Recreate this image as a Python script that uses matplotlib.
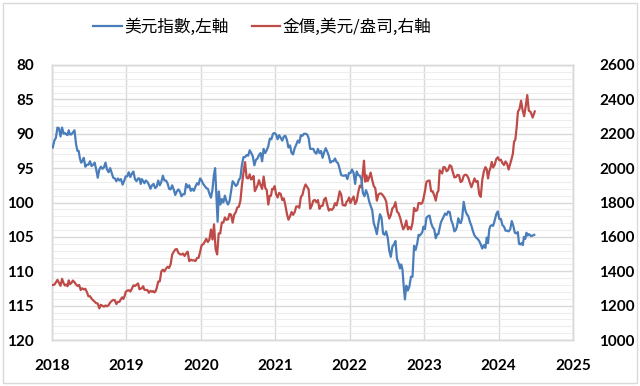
import matplotlib
matplotlib.use("Agg")
import matplotlib.pyplot as plt
from matplotlib.lines import Line2D
from matplotlib.patches import Rectangle
import numpy as np

# ---------------- data (weekly values, grouped by month) ----------------
years = [2018, 2019, 2020, 2021, 2022, 2023, 2024]

dxy = {
    2018: [[92.0, 91.0, 90.6, 89.1], [89.2, 90.4, 89.1, 90.0], [89.9, 90.1, 90.2, 89.5, 90.1],
           [90.1, 89.8, 89.5, 91.5], [92.5, 92.5, 93.6, 94.2, 94.0], [93.5, 94.8, 94.5, 94.5],
           [94.0, 94.7, 94.5, 94.2], [95.2, 96.4, 95.2, 94.8], [95.1, 94.9, 94.2, 95.2],
           [95.6, 95.0, 95.7, 96.4], [96.5, 96.9, 96.5, 96.8], [96.6, 97.4, 96.9, 96.2]],
    2019: [[96.2, 95.6, 96.3, 95.8], [95.5, 96.6, 96.9, 96.5], [96.5, 97.3, 96.6, 96.9, 97.2],
           [96.8, 97.0, 97.4, 98.0], [97.5, 97.3, 97.9, 97.7], [96.8, 97.5, 97.0, 96.1],
           [96.8, 96.8, 97.2, 98.0], [98.1, 97.5, 98.1, 98.9], [98.4, 98.1, 98.4, 99.1],
           [98.8, 98.8, 97.3, 97.8], [97.5, 98.3, 98.0, 98.3], [97.7, 97.2, 97.4, 96.5]],
    2020: [[96.8, 97.3, 97.6, 97.9], [98.0, 98.7, 99.3, 98.1], [96.0, 95.0, 98.8, 102.8, 98.4],
           [100.3, 99.5, 100.0, 99.0], [99.8, 100.3, 99.8, 98.3], [96.9, 97.2, 97.6, 97.4],
           [96.7, 96.4, 94.5, 93.4], [93.4, 93.1, 93.2, 92.4], [92.8, 93.3, 94.6, 93.8],
           [93.6, 93.1, 92.8, 94.0], [92.2, 92.8, 92.4, 91.8], [90.7, 90.8, 90.0, 89.9]],
    2021: [[90.1, 90.8, 90.2, 90.6], [91.0, 90.4, 90.3, 90.9], [92.0, 91.7, 92.8, 93.0],
           [92.1, 91.6, 91.0, 91.3], [90.2, 90.3, 90.0, 90.0], [90.1, 90.6, 92.2, 92.2],
           [92.2, 92.7, 92.9, 92.2], [92.8, 92.5, 93.5, 92.7], [92.1, 92.6, 93.2, 94.2],
           [94.0, 94.0, 93.6, 94.1], [94.3, 95.1, 96.0, 96.1], [96.1, 96.0, 96.6, 95.7]],
    2022: [[95.7, 95.2, 95.7, 97.3], [95.5, 96.0, 96.1, 96.6], [98.6, 99.1, 98.2, 98.8],
           [99.8, 100.5, 101.1, 103.0], [103.7, 104.6, 103.0, 101.7], [102.2, 104.5, 104.7, 104.2],
           [105.1, 107.0, 107.9, 106.4], [106.1, 105.6, 108.2, 108.8], [109.6, 109.0, 109.7, 112.1, 114.1],
           [112.1, 112.8, 112.2, 110.8], [110.8, 106.3, 106.9, 106.0], [104.7, 104.8, 104.6, 104.3, 103.5]],
    2023: [[103.9, 102.2, 102.0, 101.9], [103.0, 103.6, 103.9, 105.2], [104.6, 104.6, 103.7, 102.9, 102.5],
           [102.1, 101.6, 101.8, 101.3], [101.4, 102.6, 103.2, 104.2], [104.0, 103.5, 102.3, 102.9, 103.0],
           [102.3, 99.9, 101.1, 101.7], [102.0, 102.8, 103.4, 104.2], [104.8, 105.1, 105.3, 105.6],
           [106.1, 106.7, 106.2, 106.6], [105.1, 105.9, 103.9, 103.4, 103.3], [103.4, 102.6, 101.7, 101.3]],
    2024: [[102.4, 102.4, 103.3, 103.5], [104.1, 104.1, 104.2, 103.9], [102.7, 103.4, 104.4, 104.5],
           [104.3, 106.0, 106.1, 105.9, 106.2], [105.0, 105.3, 104.4, 104.8, 104.6], [104.9, 104.7]],
}

gold = {
    2018: [[1320, 1322, 1335, 1350], [1333, 1315, 1356, 1330], [1317, 1323, 1313, 1347, 1325],
           [1332, 1346, 1336, 1323], [1314, 1320, 1291, 1301], [1294, 1298, 1279, 1254],
           [1255, 1241, 1231, 1223], [1214, 1212, 1184, 1205], [1199, 1194, 1201, 1196],
           [1203, 1218, 1227, 1233], [1232, 1209, 1222, 1222], [1237, 1248, 1239, 1256, 1281]],
    2019: [[1287, 1290, 1282, 1298], [1318, 1314, 1322, 1329], [1295, 1298, 1302, 1313, 1292],
           [1291, 1291, 1275, 1286], [1281, 1285, 1277, 1283, 1305], [1340, 1341, 1399, 1409],
           [1399, 1415, 1426, 1419], [1440, 1497, 1513, 1527], [1529, 1507, 1499, 1497],
           [1503, 1489, 1504, 1514], [1459, 1467, 1463, 1464], [1459, 1477, 1478, 1512]],
    2020: [[1552, 1557, 1571, 1589], [1570, 1584, 1643, 1585], [1673, 1530, 1498, 1620],
           [1620, 1684, 1683, 1713], [1699, 1702, 1734, 1729], [1683, 1729, 1743, 1771],
           [1775, 1810, 1902, 1975], [2035, 1944, 1940, 1964], [1934, 1940, 1954, 1866, 1880],
           [1899, 1930, 1901, 1879], [1951, 1886, 1871, 1788], [1839, 1839, 1880, 1877, 1895]],
    2021: [[1849, 1829, 1856, 1850], [1814, 1824, 1784, 1734], [1700, 1719, 1745, 1728],
           [1744, 1777, 1777, 1769], [1832, 1844, 1881, 1905], [1891, 1877, 1764, 1781],
           [1811, 1815, 1802, 1814], [1763, 1780, 1781, 1818], [1827, 1787, 1753, 1761],
           [1757, 1768, 1796, 1783], [1818, 1865, 1846, 1785], [1783, 1782, 1805, 1811, 1829]],
    2022: [[1797, 1818, 1835, 1791], [1808, 1860, 1898, 1889], [1966, 2043, 1921, 1958, 1925],
           [1945, 1974, 1931, 1896], [1883, 1811, 1846, 1853], [1851, 1840, 1827, 1807],
           [1742, 1707, 1727, 1766], [1775, 1802, 1747, 1738], [1712, 1675, 1644, 1660],
           [1695, 1644, 1657, 1644], [1681, 1769, 1751, 1755], [1797, 1797, 1792, 1798, 1824]],
    2023: [[1865, 1920, 1926, 1928], [1865, 1865, 1842, 1811], [1856, 1868, 1988, 1978, 1969],
           [2007, 2004, 1982, 1990], [2017, 2011, 1977, 1946], [1948, 1961, 1958, 1919],
           [1925, 1955, 1962, 1959], [1943, 1914, 1889, 1915], [1940, 1919, 1925, 1848],
           [1833, 1932, 1981, 2006], [1992, 1940, 1981, 2002, 2036], [2004, 2019, 2053, 2063]],
    2024: [[2045, 2049, 2029, 2018], [2039, 2024, 1992, 2024], [2054, 2083, 2155, 2165, 2232],
           [2329, 2344, 2392, 2337], [2302, 2360, 2425, 2334], [2327, 2294, 2330]],
}

legend_labels = ["美元指數,左軸", "金價,美元/盎司,右軸"]
left_ticks = [80, 85, 90, 95, 100, 105, 110, 115, 120]
right_ticks = [1000, 1200, 1400, 1600, 1800, 2000, 2200, 2400, 2600]
x_ticks = [2018, 2019, 2020, 2021, 2022, 2023, 2024, 2025]


def flatten(series):
    xs, ys = [], []
    for yr in years:
        for m, vals in enumerate(series[yr]):
            n = len(vals)
            for i, v in enumerate(vals):
                xs.append(yr + (m + (i + 0.5) / n) / 12.0)
                ys.append(v)
    return np.array(xs), np.array(ys)


dx, dy = flatten(dxy)
gx, gy = flatten(gold)

# ---------------- plot ----------------
BLUE = "#4A7EBB"
RED = "#BE4B48"
GRID = "#D9D9D9"
MINOR = "#EDEDED"

fig = plt.figure(figsize=(6.4, 3.86), dpi=100)
rect = [52 / 640, 1 - 340 / 386, (573 - 52) / 640, (340 - 65) / 386]
ax = fig.add_axes(rect)            # left axis + grid
ax2 = ax.twinx()                   # right axis, gold
ax3 = fig.add_axes(rect, sharex=ax)  # left-scale overlay for dollar index
ax3.set_ylim(120, 80)
ax3.axis("off")
ax3.patch.set_visible(False)

ax.set_xlim(2018, 2025)
ax.set_ylim(120, 80)
ax2.set_ylim(1000, 2600)

ax.set_yticks(left_ticks)
ax.set_yticks(np.arange(80, 121, 1), minor=True)
ax.set_xticks(x_ticks)
ax2.set_yticks(right_ticks)

ax.grid(which="major", axis="both", color=GRID, lw=1.0)
ax.grid(which="minor", axis="y", color=MINOR, lw=0.8)
ax.set_axisbelow(True)

for a in (ax, ax2):
    for s in a.spines.values():
        s.set_color(GRID)
        s.set_linewidth(1.0)
    a.tick_params(which="both", length=0)

ax.tick_params(axis="y", pad=13)
ax.tick_params(axis="x", pad=14)
ax2.tick_params(axis="y", pad=19)
for lab in ax.get_yticklabels() + ax.get_xticklabels() + ax2.get_yticklabels():
    lab.set_fontfamily("Lato")
    lab.set_fontweight("bold")
    lab.set_fontsize(11)
    lab.set_color("#000000")

ax2.plot(gx, gy, color=RED, lw=1.6, zorder=3)
ax3.plot(dx, dy, color=BLUE, lw=1.6, zorder=3)

handles = [Line2D([], [], color=BLUE, lw=1.6), Line2D([], [], color=RED, lw=1.6)]
fig.legend(handles, legend_labels, loc="center", bbox_to_anchor=(0.41, 1 - 27 / 386),
           ncol=2, frameon=False, handlelength=1.7, handletextpad=0.15, columnspacing=1.4,
           prop=dict(family=["Noto Sans CJK TC", "DejaVu Sans"], size=12))

fig.patches.append(Rectangle((3 / 640, 3 / 386), 634 / 640, 380 / 386, transform=fig.transFigure,
                             fill=False, edgecolor=GRID, lw=1.0))

fig.savefig("out.png", dpi=100)
